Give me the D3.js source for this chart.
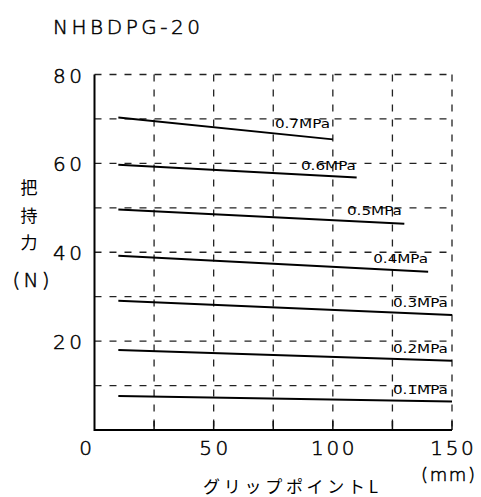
<!DOCTYPE html>
<html><head><meta charset="utf-8">
<script src="https://cdn.jsdelivr.net/npm/d3@7"></script>
<style>body{margin:0;background:#fff}svg{display:block}text{font-family:"DejaVu Sans",sans-serif;fill:#000}
.thin{font-weight:200;stroke:#000;stroke-width:0.5}
.cjk{font-family:"Noto Sans CJK JP",sans-serif;font-weight:400}</style>
</head><body>
<script>
const seriesLabels = ["0.7MPa","0.6MPa","0.5MPa","0.4MPa","0.3MPa","0.2MPa","0.1MPa"];
const xStart = [10,10,10,10,10,10,10];
const xEnd = [100,110,130,140,150,150,150];
const yStart = [70.3,59.7,49.6,39.2,29.1,18.0,7.65];
const yEnd = [65.4,56.8,46.4,35.6,25.9,15.6,6.4];
const labelY = [68.0,58.5,48.4,37.6,27.7,17.4,8.1];
const labelX = [98.8,109.7,129,140,148.3,148.3,148.3];
const xTicks = [0,50,100,150];
const yTicks = [20,40,60,80];
const xGrid = [25,50,75,100,125,150];
const yGrid = [10,20,30,40,50,60,70,80];

const W=481,H=497;
const svg=d3.select("body").append("svg").attr("width",W).attr("height",H);
const x=d3.scaleLinear().domain([0,150]).range([94.5,452]);
const y=d3.scaleLinear().domain([0,80]).range([430,74.5]);

// grid
svg.append("g").selectAll("line").data(xGrid).join("line")
  .attr("x1",d=>x(d)).attr("x2",d=>x(d)).attr("y1",y(80)).attr("y2",y(0))
  .attr("stroke","#222").attr("stroke-width",1.3).attr("stroke-dasharray","7,8");
svg.append("g").selectAll("line").data(yGrid).join("line")
  .attr("x1",x(0)).attr("x2",x(150)).attr("y1",d=>y(d)).attr("y2",d=>y(d))
  .attr("stroke","#222").attr("stroke-width",1.3).attr("stroke-dasharray","7,8");

// bottom ticks
svg.append("g").selectAll("line").data(xGrid).join("line")
  .attr("x1",d=>x(d)).attr("x2",d=>x(d)).attr("y1",y(0)).attr("y2",y(0)-9)
  .attr("stroke","#111").attr("stroke-width",1.5);

// axes
svg.append("path").attr("d",`M${x(0)},${y(80)}V${y(0)}H${x(150)}`)
  .attr("fill","none").attr("stroke","#000").attr("stroke-width",2);

// tick labels
svg.append("g").selectAll("text").data(xTicks).join("text").attr("class","thin")
  .attr("x",d=>x(d)+(d===0?-9:0)).attr("y",455).attr("text-anchor","middle")
  .attr("font-size",20).attr("textLength",d=>String(d).length*14.5).attr("lengthAdjust","spacing")
  .text(d=>d);
svg.append("g").selectAll("text").data(yTicks).join("text").attr("class","thin")
  .attr("x",82).attr("y",d=>y(d)+8).attr("text-anchor","end")
  .attr("font-size",20).attr("textLength",29).attr("lengthAdjust","spacing")
  .text(d=>d);

// lines
const data=seriesLabels.map((l,i)=>({l,x1:xStart[i],x2:xEnd[i],y1:yStart[i],y2:yEnd[i],lx:labelX[i],ly:labelY[i]}));
svg.append("g").selectAll("line").data(data).join("line")
  .attr("x1",d=>x(d.x1)).attr("x2",d=>x(d.x2)).attr("y1",d=>y(d.y1)).attr("y2",d=>y(d.y2))
  .attr("stroke","#000").attr("stroke-width",2);
svg.append("g").selectAll("text").data(data).join("text")
  .attr("x",d=>x(d.lx)).attr("y",d=>y(d.ly)).attr("text-anchor","end")
  .attr("font-size",13).attr("textLength",55).attr("lengthAdjust","spacingAndGlyphs")
  .text(d=>d.l);

// title
svg.append("text").attr("class","thin").attr("x",53).attr("y",34).attr("font-size",20)
  .attr("textLength",147).attr("lengthAdjust","spacing").text("NHBDPG-20");

// y title
const yl=["把","持","力"];
svg.append("g").selectAll("text").data(yl).join("text").attr("class","cjk")
  .attr("x",29).attr("y",(d,i)=>194+i*27.5).attr("text-anchor","middle")
  .attr("font-size",17).text(d=>d);
svg.append("text").attr("class","thin").attr("x",31).attr("y",287).attr("text-anchor","middle")
  .attr("font-size",20).attr("textLength",37).attr("lengthAdjust","spacing").text("(N)");

// x title
svg.append("text").attr("class","cjk").attr("x",203).attr("y",493)
  .attr("font-size",17).attr("textLength",175).attr("lengthAdjust","spacing").text("グリップポイントL");
svg.append("text").attr("class","thin").attr("x",421).attr("y",481).attr("font-size",18)
  .attr("textLength",54).attr("lengthAdjust","spacing").text("(mm)");
</script>
</body></html>
